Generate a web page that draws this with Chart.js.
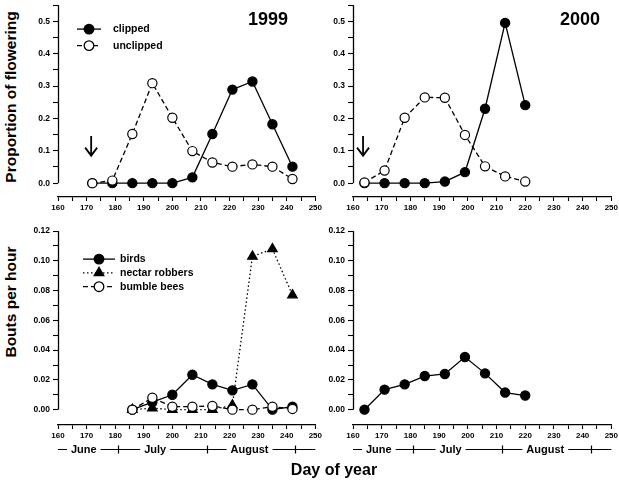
<!DOCTYPE html>
<html>
<head>
<meta charset="utf-8">
<script src="https://cdn.jsdelivr.net/npm/chart.js@4.4.1/dist/chart.umd.min.js"></script>
<style>
    html, body {
        margin: 0;
        padding: 0;
        width: 619px;
        height: 484px;
        overflow: hidden;
        background: #fff;
        position: relative;
        font-family: "Liberation Sans", Arial, sans-serif;
    }
    canvas { position: absolute; }
    .title {
        position: absolute;
        font-weight: bold;
        color: #000;
        white-space: nowrap;
        line-height: 1;
        transform: translate(-50%, -50%);
    }
    .title.vert { transform: translate(-50%, -50%) rotate(-90deg); }
</style>
</head>
<body>
<canvas id="c1999top" width="304" height="224" style="left:20px;top:-3px"></canvas>
<canvas id="c2000top" width="305" height="224" style="left:315px;top:-3px"></canvas>
<canvas id="c1999bot" width="304" height="244" style="left:20px;top:223px"></canvas>
<canvas id="c2000bot" width="305" height="244" style="left:315px;top:223px"></canvas>

<div class="title vert" style="left:11px;top:97px;font-size:15.5px">Proportion of flowering</div>
<div class="title vert" style="left:11px;top:302px;font-size:15.5px">Bouts per hour</div>
<div class="title" style="left:334px;top:470px;font-size:16px">Day of year</div>

<script>
// ---- Data ----
const dayTicks = [160, 165, 170, 175, 180, 185, 190, 195, 200, 205, 210, 215, 220, 225, 230, 235, 240, 245, 250];
const propTicks = [0, 0.05, 0.1, 0.15, 0.2, 0.25, 0.3, 0.35, 0.4, 0.45, 0.5, 0.55];
const boutTicks = [0, 0.01, 0.02, 0.03, 0.04, 0.05, 0.06, 0.07, 0.08, 0.09, 0.1, 0.11, 0.12];

// 1999 flowering
const clippedDays1999 = [172, 179, 186, 193, 200, 207, 214, 221, 228, 235, 242];
const clipped1999 = [0, 0, 0, 0, 0, 0.018, 0.152, 0.289, 0.314, 0.182, 0.051];
const unclippedDays1999 = [172, 179, 186, 193, 200, 207, 214, 221, 228, 235, 242];
const unclipped1999 = [0, 0.008, 0.152, 0.309, 0.202, 0.099, 0.064, 0.051, 0.058, 0.051, 0.013];

// 2000 flowering
const clippedDays2000 = [164, 171, 178, 185, 192, 199, 206, 213, 220];
const clipped2000 = [0, 0, 0, 0, 0.005, 0.034, 0.23, 0.495, 0.241];
const unclippedDays2000 = [164, 171, 178, 185, 192, 199, 206, 213, 220];
const unclipped2000 = [0.002, 0.039, 0.202, 0.265, 0.264, 0.149, 0.052, 0.021, 0.005];

// 1999 visitors
const visitDays1999 = [186, 193, 200, 207, 214, 221, 228, 235, 242];
const birds1999 = [0, 0.005, 0.01, 0.0235, 0.017, 0.013, 0.017, 0, 0.002];
const robbers1999 = [0, 0.001, 0, 0, 0, 0.003, 0.103, 0.108, 0.077];
const bumblebees1999 = [0, 0.008, 0.002, 0.002, 0.0025, 0, 0, 0.002, 0.0005];

// 2000 visitors
const visitDays2000 = [164, 171, 178, 185, 192, 199, 206, 213, 220];
const birds2000 = [0, 0.0135, 0.017, 0.0226, 0.024, 0.0354, 0.0244, 0.0115, 0.0095];

// clipping dates (arrows)
const clipDay1999 = 171.6;
const clipDay2000 = 163.5;
const arrowFrom = 0.146;
const arrowTo = 0.085;

// month bar under the bottom panels
const monthNames = ['June', 'July', 'August'];
const monthCenters = [169, 194, 227];
const monthBounds = [181, 212, 243];

const FONT = '"Liberation Sans", Arial, sans-serif';

const toPoints = (xs, ys) => xs.map((d, i) => ({ x: d, y: ys[i] }));

/**
 * Axis line, arrow, inset legend, year label, month bar
 */
const decor = {
    id: 'decor',
    afterDraw(chart, args, opts) {
        const { ctx, chartArea: a } = chart;
        const x = chart.scales.x, y = chart.scales.y;
        ctx.save();
        ctx.strokeStyle = '#000';
        ctx.fillStyle = '#000';

        // y axis line (stops at zero, like the original)
        ctx.lineWidth = 1.3;
        const ax = Math.round(a.left) + 0.5;
        ctx.beginPath();
        ctx.moveTo(ax, y.getPixelForValue(0));
        ctx.lineTo(ax, y.getPixelForValue(y.max));
        ctx.stroke();

        // clipping arrow
        if (opts.arrowDay) {
            const px = x.getPixelForValue(opts.arrowDay);
            const y1 = y.getPixelForValue(arrowFrom);
            const y2 = y.getPixelForValue(arrowTo);
            ctx.lineWidth = 1.8;
            ctx.beginPath();
            ctx.moveTo(px, y1);
            ctx.lineTo(px, y2);
            ctx.moveTo(px - 6, y2 - 8);
            ctx.lineTo(px, y2);
            ctx.lineTo(px + 6, y2 - 8);
            ctx.stroke();
        }

        // year
        if (opts.year) {
            ctx.font = 'bold 18px ' + FONT;
            ctx.textAlign = 'left';
            ctx.textBaseline = 'alphabetic';
            ctx.fillText(opts.year.text, a.left + opts.year.dx, a.top + opts.year.dy);
        }

        // legend
        if (opts.legend) {
            const L = opts.legend;
            ctx.font = 'bold 10.5px ' + FONT;
            ctx.textBaseline = 'middle';
            ctx.textAlign = 'left';
            L.items.forEach((it, i) => {
                const ly = a.top + L.dy + i * L.gap;
                const x0 = a.left + L.x0, x1 = a.left + L.x1, mx = (x0 + x1) / 2;
                ctx.lineWidth = 1.3;
                ctx.setLineDash(it.dash);
                ctx.beginPath();
                ctx.moveTo(x0, ly);
                ctx.lineTo(x1, ly);
                ctx.stroke();
                ctx.setLineDash([]);
                ctx.beginPath();
                if (it.shape === 'triangle') {
                    const r = 5.5;
                    ctx.moveTo(mx, ly - r);
                    ctx.lineTo(mx + r * 0.87, ly + r * 0.5);
                    ctx.lineTo(mx - r * 0.87, ly + r * 0.5);
                    ctx.closePath();
                } else {
                    ctx.arc(mx, ly, 4.8, 0, Math.PI * 2);
                }
                ctx.fillStyle = it.filled ? '#000' : '#fff';
                ctx.fill();
                ctx.stroke();
                ctx.fillStyle = '#000';
                ctx.fillText(it.label, a.left + L.tx, ly + 0.5);
            });
        }

        // month bar
        if (opts.months) {
            const my = a.bottom + 24.5;
            ctx.lineWidth = 1.2;
            ctx.beginPath();
            ctx.moveTo(x.getPixelForValue(x.min), my);
            ctx.lineTo(x.getPixelForValue(x.max), my);
            ctx.stroke();
            monthBounds.forEach(b => {
                const bx = Math.round(x.getPixelForValue(b)) + 0.5;
                ctx.beginPath();
                ctx.moveTo(bx, my - 4);
                ctx.lineTo(bx, my + 4);
                ctx.stroke();
            });
            ctx.font = 'bold 11px ' + FONT;
            ctx.textAlign = 'center';
            ctx.textBaseline = 'middle';
            monthNames.forEach((m, i) => {
                const cx = x.getPixelForValue(monthCenters[i]);
                const w = ctx.measureText(m).width + 8;
                ctx.fillStyle = '#fff';
                ctx.fillRect(cx - w / 2, my - 6, w, 12);
                ctx.fillStyle = '#000';
                ctx.fillText(m, cx, my + 0.5);
            });
        }
        ctx.restore();
    }
};

function lineSet(label, xs, ys, opts) {
    return Object.assign({
        label: label,
        data: toPoints(xs, ys),
        borderColor: '#000',
        borderWidth: 1.3,
        pointBorderColor: '#000',
        pointBorderWidth: 1.2,
        pointRadius: 4.6,
        pointHoverRadius: 4.6,
        pointStyle: 'circle',
        tension: 0,
        clip: false
    }, opts);
}

function makePanel(id, datasets, cfg) {
    const yTicks = cfg.yTicks;
    return new Chart(document.getElementById(id), {
        type: 'line',
        data: { datasets: datasets },
        plugins: [decor],
        options: {
            responsive: false,
            animation: false,
            events: [],
            layout: { padding: { top: 6, right: cfg.padRight, left: 0, bottom: 0 } },
            plugins: {
                legend: { display: false },
                tooltip: { enabled: false },
                decor: cfg.decor
            },
            scales: {
                x: {
                    type: 'linear',
                    min: 160,
                    max: 250,
                    afterBuildTicks: s => { s.ticks = dayTicks.map(v => ({ value: v })); },
                    afterFit: s => { s.height = cfg.xHeight; },
                    grid: {
                        drawOnChartArea: false,
                        color: '#000',
                        tickColor: '#000',
                        tickLength: 4,
                        tickWidth: 1.1
                    },
                    border: { display: true, color: '#000', width: 1.3 },
                    ticks: {
                        color: '#000',
                        padding: 2,
                        maxRotation: 0,
                        autoSkip: false,
                        font: { family: FONT, size: 8, weight: 'bold' },
                        callback: v => (v % 10 === 0 ? String(v) : '')
                    }
                },
                y: {
                    type: 'linear',
                    min: cfg.yMin,
                    max: yTicks[yTicks.length - 1],
                    afterBuildTicks: s => { s.ticks = yTicks.map(v => ({ value: v })); },
                    afterFit: s => { s.width = 38; },
                    grid: {
                        drawOnChartArea: false,
                        color: '#000',
                        tickColor: '#000',
                        tickLength: 5,
                        tickWidth: 1.1
                    },
                    border: { display: false },
                    ticks: {
                        color: '#000',
                        padding: 3,
                        autoSkip: false,
                        font: { family: FONT, size: 8.5, weight: 'bold' },
                        callback: cfg.yLabel
                    }
                }
            }
        }
    });
}

const propLabel = v => {
    const t = Math.round(v * 100);
    return t % 10 === 0 ? (t / 100).toFixed(1) : '';
};
const boutLabel = v => {
    const t = Math.round(v * 100);
    return t % 2 === 0 ? (t / 100).toFixed(2) : '';
};

const flowerLegend = {
    dy: 24, gap: 16.5, x0: 19, x1: 43, tx: 55,
    items: [
        { label: 'clipped', filled: true, shape: 'circle', dash: [] },
        { label: 'unclipped', filled: false, shape: 'circle', dash: [5, 3] }
    ]
};
const visitLegend = {
    dy: 28, gap: 13.8, x0: 25, x1: 57, tx: 62,
    items: [
        { label: 'birds', filled: true, shape: 'circle', dash: [] },
        { label: 'nectar robbers', filled: true, shape: 'triangle', dash: [1.5, 2.5] },
        { label: 'bumble bees', filled: false, shape: 'circle', dash: [5, 3] }
    ]
};

// top row: proportion of flowering
makePanel('c1999top', [
    lineSet('unclipped', unclippedDays1999, unclipped1999, { borderDash: [5, 3], pointBackgroundColor: '#fff', order: 0 }),
    lineSet('clipped', clippedDays1999, clipped1999, { pointBackgroundColor: '#000', order: 1 })
], {
    yTicks: propTicks, yMin: -0.0427, yLabel: propLabel, xHeight: 24, padRight: 8,
    decor: { arrowDay: clipDay1999, year: { text: '1999', dx: 190, dy: 20 }, legend: flowerLegend }
});

makePanel('c2000top', [
    lineSet('unclipped', unclippedDays2000, unclipped2000, { borderDash: [5, 3], pointBackgroundColor: '#fff', order: 0 }),
    lineSet('clipped', clippedDays2000, clipped2000, { pointBackgroundColor: '#000', order: 1 })
], {
    yTicks: propTicks, yMin: -0.0427, yLabel: propLabel, xHeight: 24, padRight: 8,
    decor: { arrowDay: clipDay2000, year: { text: '2000', dx: 207, dy: 20 } }
});

// bottom row: visitation
makePanel('c1999bot', [
    lineSet('bumble bees', visitDays1999, bumblebees1999, { borderDash: [5, 3], pointBackgroundColor: '#fff', order: 0 }),
    lineSet('nectar robbers', visitDays1999, robbers1999, {
        borderDash: [1.5, 2.5], pointStyle: 'triangle', pointRadius: 5.5, pointHoverRadius: 5.5,
        pointBackgroundColor: '#000', order: 1
    }),
    lineSet('birds', visitDays1999, birds1999, { pointBackgroundColor: '#000', order: 2 })
], {
    yTicks: boutTicks, yMin: -0.0103, yLabel: boutLabel, xHeight: 42, padRight: 8,
    decor: { legend: visitLegend, months: true }
});

makePanel('c2000bot', [
    lineSet('birds', visitDays2000, birds2000, { pointBackgroundColor: '#000' })
], {
    yTicks: boutTicks, yMin: -0.0103, yLabel: boutLabel, xHeight: 42, padRight: 8,
    decor: { months: true }
});
</script>
</body>
</html>
